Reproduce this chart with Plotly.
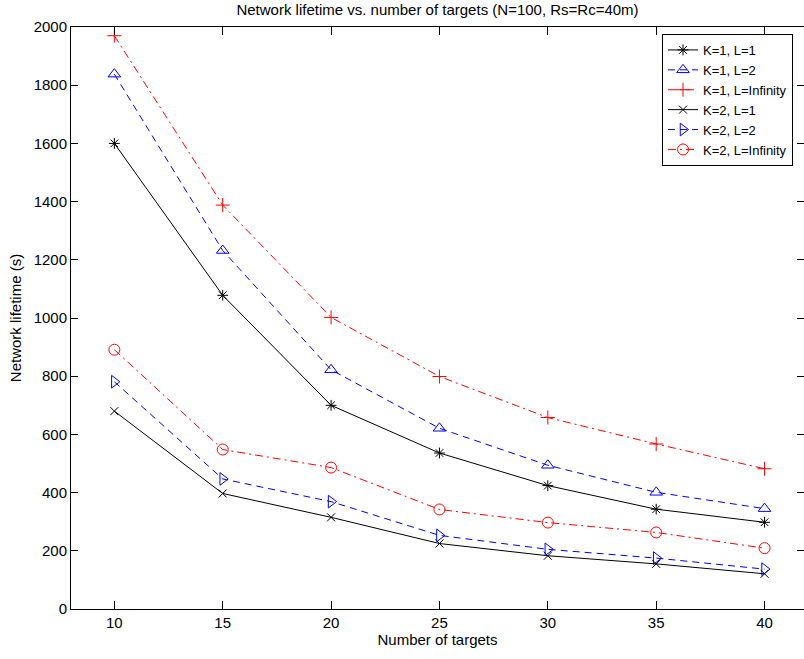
import plotly.graph_objects as go

targets = [10, 15, 20, 25, 30, 35, 40]
k1_l1 = [1600, 1078, 700, 536, 424, 343, 298]
k1_l2 = [1838, 1232, 822, 621, 494, 401, 345]
k1_linf = [1970, 1388, 1002, 799, 658, 567, 482]
k2_l1 = [680, 397, 315, 225, 183, 155, 121]
k2_l2 = [781, 447, 369, 253, 205, 175, 137]
k2_linf = [891, 548, 486, 342, 297, 263, 209]

series_names = ["K=1, L=1", "K=1, L=2", "K=1, L=Infinity",
                "K=2, L=1", "K=2, L=2", "K=2, L=Infinity"]
x_ticks = [10, 15, 20, 25, 30, 35, 40]
y_ticks = [0, 200, 400, 600, 800, 1000, 1200, 1400, 1600, 1800, 2000]

FONT = "Liberation Sans, Arial, Helvetica, sans-serif"
DASH = "7px,5px"
DASHDOT = "8px,4px,2px,4px"

styles = [
    dict(color="black", dash="solid", symbol="asterisk-open", size=9),
    dict(color="blue", dash=DASH, symbol="triangle-up-open", size=11),
    dict(color="red", dash=DASHDOT, symbol="cross-thin-open", size=10),
    dict(color="black", dash="solid", symbol="x-thin-open", size=8),
    dict(color="blue", dash=DASH, symbol="triangle-right-open", size=11),
    dict(color="red", dash=DASHDOT, symbol="circle-open", size=11),
]
data = [k1_l1, k1_l2, k1_linf, k2_l1, k2_l2, k2_linf]

fig = go.Figure()
for name, ys, st in zip(series_names, data, styles):
    fig.add_trace(go.Scatter(
        x=targets, y=ys, name=name, mode="lines+markers",
        line=dict(color=st["color"], width=1, dash=st["dash"]),
        marker=dict(symbol=st["symbol"], size=st["size"], color=st["color"],
                    line=dict(color=st["color"], width=1)),
    ))

# invisible trace on right axis to render mirrored ticks
fig.add_trace(go.Scatter(x=[targets[0]], y=[k1_l1[0]], yaxis="y2",
                         mode="markers", marker=dict(opacity=0),
                         showlegend=False, hoverinfo="skip"))

fig.update_layout(
    width=804, height=659,
    margin=dict(l=71, r=0, t=27, b=50),
    paper_bgcolor="white", plot_bgcolor="white",
    font=dict(family=FONT, size=14, color="black"),
    title=dict(text="Network lifetime vs. number of targets (N=100, Rs=Rc=40m)",
               x=0.5, xanchor="center", xref="paper", y=0.985, yanchor="middle",
               font=dict(family=FONT, size=15, color="black")),
    xaxis=dict(range=[8, 41.82], tickvals=x_ticks, ticks="inside", ticklen=8,
               tickcolor="black", showline=True, linecolor="black", linewidth=1,
               mirror="ticks", showgrid=False, zeroline=False,
               tickfont=dict(family=FONT, size=15, color="black"),
               title=dict(text="Number of targets", standoff=4,
                          font=dict(family=FONT, size=15, color="black"))),
    yaxis=dict(range=[0, 2000], tickvals=y_ticks, ticks="inside", ticklen=7,
               tickcolor="black", showline=True, linecolor="black", linewidth=1,
               mirror=False, showgrid=False, zeroline=False,
               tickfont=dict(family=FONT, size=15, color="black"),
               title=dict(text="Network lifetime (s)", standoff=8,
                          font=dict(family=FONT, size=15, color="black"))),
    yaxis2=dict(overlaying="y", side="right", matches="y", range=[0, 2000],
                tickvals=y_ticks, ticks="inside", ticklen=7, tickcolor="black",
                showticklabels=False, showline=False, showgrid=False,
                zeroline=False),
    legend=dict(x=0.985, y=0.988, xanchor="right", yanchor="top",
                bgcolor="white", bordercolor="black", borderwidth=1,
                font=dict(family=FONT, size=13, color="black"),
                tracegroupgap=0, itemwidth=30),
    showlegend=True,
)

fig.write_html("out.html")
